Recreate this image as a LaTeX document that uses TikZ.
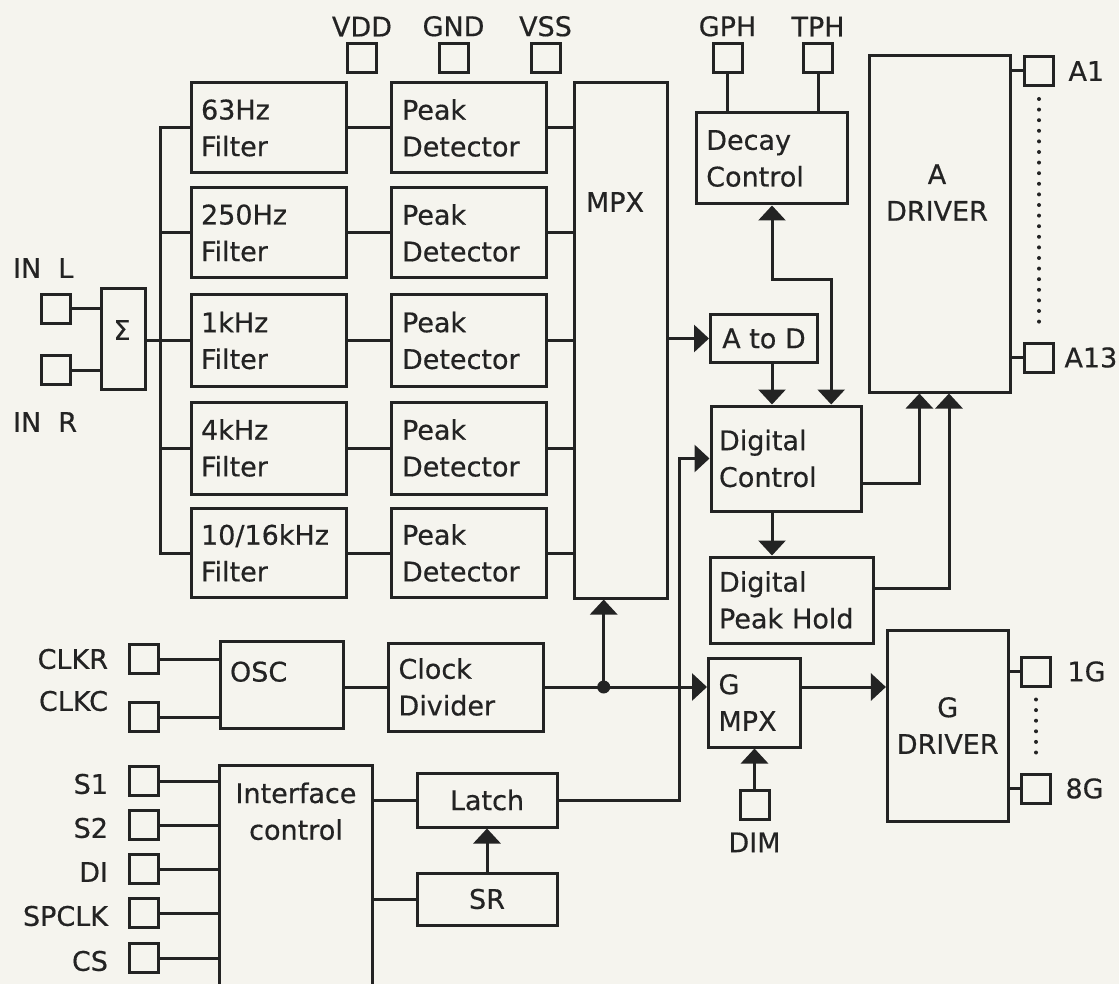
\documentclass[tikz,border=0pt]{standalone}
\usepackage{fontspec}
\setmainfont{DejaVu Sans}[FakeBold=0.5]
\usepackage{tikz}
\usetikzlibrary{arrows.meta, positioning}

\definecolor{paper}{RGB}{245,244,238}
\definecolor{ink}{RGB}{35,35,35}

\begin{document}
\begin{tikzpicture}[
    x=1pt, y=-1pt,
    line width=3pt, color=ink,
    font={\fontsize{27pt}{36.7pt}\selectfont},
    box/.style={rectangle, draw, inner sep=0pt},
    lbox/.style={box, align=left, inner xsep=10pt},
    pad/.style={rectangle, draw, minimum size=29pt, inner sep=0pt},
    padlabel/.style={inner sep=0pt},
    arrow/.style={->, >={Triangle[length=15pt, width=27pt]}},
    dotline/.style={line width=4pt, line cap=round, dash pattern=on 0pt off 10.6pt}
]

\fill[paper] (0,0) rectangle (1119,984);
\useasboundingbox (0,0) rectangle (1119,984);

% Nodes
\node (vdd) [pad] at (362,58) {};
\node (gnd) [pad] at (453.5,58) {};
\node (vss) [pad] at (545.5,58) {};
\node (vddlabel) [padlabel, above=4pt of vdd] {VDD};
\node (gndlabel) [padlabel, above=4pt of gnd] {GND};
\node (vsslabel) [padlabel, above=4pt of vss] {VSS};
\node (gph) [pad] at (727.5,58) {};
\node (tph) [pad] at (818,58) {};
\node (gphlabel) [padlabel, above=4pt of gph] {GPH};
\node (tphlabel) [padlabel, above=4pt of tph] {TPH};

\node (inl) [pad] at (55.5,309) {};
\node (inr) [pad] at (55.5,370) {};
\node (inllabel) [padlabel, anchor=west] at (11.5,268) {IN~~L};
\node (inrlabel) [padlabel, anchor=west] at (11.5,422) {IN~~R};
\node (sum) [box, minimum width=44pt, minimum height=100pt] at (123,339) {};
\node (sumtext) [padlabel] at (122,330) {Σ};

\node (f1) [lbox, text width=135.5pt, minimum height=90pt] at (268.8,128) {63Hz\\Filter};
\node (f2) [lbox, text width=135.5pt, minimum height=90pt] at (268.8,233) {250Hz\\Filter};
\node (f3) [lbox, text width=135.5pt, minimum height=92pt] at (268.8,340.5) {1kHz\\Filter};
\node (f4) [lbox, text width=135.5pt, minimum height=92pt] at (268.8,448) {4kHz\\Filter};
\node (f5) [lbox, text width=135.5pt, minimum height=89pt] at (268.8,553) {10/16kHz\\Filter};
\node (p1) [lbox, inner xsep=11pt, text width=133pt, minimum height=90pt] at (468.5,128) {Peak\\Detector};
\node (p2) [lbox, inner xsep=11pt, text width=133pt, minimum height=90pt] at (468.5,233) {Peak\\Detector};
\node (p3) [lbox, inner xsep=11pt, text width=133pt, minimum height=92pt] at (468.5,340.5) {Peak\\Detector};
\node (p4) [lbox, inner xsep=11pt, text width=133pt, minimum height=92pt] at (468.5,448) {Peak\\Detector};
\node (p5) [lbox, inner xsep=11pt, text width=133pt, minimum height=89pt] at (468.5,553) {Peak\\Detector};

\node (mpx) [box, minimum width=93.5pt, minimum height=515pt] at (621,340.5) {};
\node (mpxtext) [padlabel] at (615,202) {MPX};

\node (decay) [lbox, text width=131.5pt, minimum height=91pt] at (772,158.5) {Decay\\Control};
\node (atod) [box, minimum width=107pt, minimum height=47pt] at (764,338.5) {A to D};
\node (dctrl) [lbox, inner xsep=8pt, text width=134pt, minimum height=105pt] at (786,458.5) {Digital\\Control};
\node (dph) [lbox, inner xsep=9pt, text width=145pt, minimum height=86pt] at (791.5,600) {Digital\\Peak Hold};

\node (adrv) [box, minimum width=140.7pt, minimum height=336pt] at (939.7,224) {};
\node (adrvtext) [padlabel, align=center] at (937,192.5) {A\\DRIVER};
\node (a1) [pad] at (1039,71) {};
\node (a13) [pad] at (1039,357.5) {};
\node (a1label) [padlabel, right=12pt of a1] {A1};
\node (a13label) [padlabel, right=8pt of a13] {A13};

\node (gmpx) [lbox, text width=72pt, minimum height=89pt] at (754.5,702.5) {G\\MPX};
\node (gdrv) [box, align=center, minimum width=120.6pt, minimum height=191pt] at (947.7,725.5) {G\\DRIVER};
\node (g1) [pad] at (1036,671.5) {};
\node (g8) [pad] at (1036,788.5) {};
\node (g1label) [padlabel, right=14pt of g1] {1G};
\node (g8label) [padlabel, right=12pt of g8] {8G};
\node (dim) [pad] at (754.5,805) {};
\node (dimlabel) [padlabel, below=10pt of dim] {DIM};

\node (osc) [box, minimum width=123.3pt, minimum height=87pt] at (281.7,685) {};
\node (osctext) [padlabel, anchor=north west] at (228.5,660) {OSC};
\node (cdiv) [lbox, text width=135pt, minimum height=88pt] at (466,687) {Clock\\Divider};
\node (clkr) [pad] at (143.5,659) {};
\node (clkc) [pad] at (143.5,717) {};
\node (clkrlabel) [padlabel, left=18pt of clkr] {CLKR};
\node (clkclabel) [padlabel, left=18pt of clkc, yshift=16pt] {CLKC};

\node (iface) [box, minimum width=153pt, minimum height=240pt] at (296,885) {};
\node (ifacetext) [padlabel, align=center, anchor=north] at (296,781) {Interface\\control};
\node (latch) [box, minimum width=140pt, minimum height=54pt] at (487,800) {Latch};
\node (sr) [box, minimum width=140pt, minimum height=52pt] at (487,899) {SR};
\node (s1) [pad] at (143.5,781) {};
\node (s2) [pad] at (143.5,825) {};
\node (di) [pad] at (143.5,869) {};
\node (spclk) [pad] at (143.5,913) {};
\node (cs) [pad] at (143.5,958) {};
\node (s1label) [padlabel, left=18pt of s1, yshift=-3pt] {S1};
\node (s2label) [padlabel, left=18pt of s2, yshift=-3pt] {S2};
\node (dilabel) [padlabel, left=18pt of di, yshift=-3pt] {DI};
\node (spclklabel) [padlabel, left=18pt of spclk, yshift=-3pt] {SPCLK};
\node (cslabel) [padlabel, left=18pt of cs, yshift=-3pt] {CS};

\coordinate (clkjoin) at (603.7,687);
\coordinate (latchbus) at (679.5,800);
\coordinate (dcbend) at (831.2,280);

% Connectors
\draw (inl) -- (inl -| sum.west);
\draw (inr) -- (inr -| sum.west);
\draw (sum.east |- f3) -- (f3.west);
\draw (f1.west) -- ++(-29pt,0) |- (f5.west);
\draw (f2.west) -- ++(-29pt,0);
\draw (f4.west) -- ++(-29pt,0);
\draw (f1) -- (p1);
\draw (f2) -- (p2);
\draw (f3) -- (p3);
\draw (f4) -- (p4);
\draw (f5) -- (p5);
\draw (p1.east) -- (p1.east -| mpx.west);
\draw (p2.east) -- (p2.east -| mpx.west);
\draw (p3.east) -- (p3.east -| mpx.west);
\draw (p4.east) -- (p4.east -| mpx.west);
\draw (p5.east) -- (p5.east -| mpx.west);

\draw [arrow] (mpx.east |- atod) -- (atod.west);
\draw (gph) -- (gph |- decay.north);
\draw (tph) -- (tph |- decay.north);
\draw [arrow, <->] (decay.south) |- (dcbend) -- (dcbend |- dctrl.north);
\draw [arrow] (atod.south -| decay.south) -- (dctrl.north -| decay.south);
\draw [arrow] (dctrl.south -| decay.south) -- (dph.north -| decay.south);
\draw [arrow] ([yshift=-24.5pt]dctrl.east) -| ([xshift=-20.3pt]adrv.south);
\draw [arrow] ([yshift=12pt]dph.east) -| ([xshift=9.3pt]adrv.south);
\draw (a1) -- (a1 -| adrv.east);
\draw (a13) -- (a13 -| adrv.east);
\draw [dotline, shorten <=12pt, shorten >=12pt] (a1.south) -- (a13.north);

\draw (clkr) -- (clkr -| osc.west);
\draw (clkc) -- (clkc -| osc.west);
\draw (cdiv.west -| osc.east) -- (cdiv.west);
\draw (cdiv.east) -- (clkjoin);
\fill (clkjoin) circle (6.5pt);
\draw [arrow] (clkjoin) -- (clkjoin |- mpx.south);
\draw [arrow] (clkjoin) -- (clkjoin -| gmpx.west);
\draw [arrow] (gmpx.east |- clkjoin) -- (gdrv.west |- clkjoin);
\draw [arrow] (dim) -- (gmpx.south -| dim);
\draw (g1) -- (g1 -| gdrv.east);
\draw (g8) -- (g8 -| gdrv.east);
\draw [dotline, shorten <=12pt, shorten >=12pt] (g1.south) -- (g8.north);

\draw (s1) -- (s1 -| iface.west);
\draw (s2) -- (s2 -| iface.west);
\draw (di) -- (di -| iface.west);
\draw (spclk) -- (spclk -| iface.west);
\draw (cs) -- (cs -| iface.west);
\draw (iface.east |- latch) -- (latch.west);
\draw (iface.east |- sr) -- (sr.west);
\draw [arrow] (sr) -- (latch);
\draw [arrow] (latch.east) -- (latchbus) |- (dctrl.west);

\end{tikzpicture}
\end{document}
